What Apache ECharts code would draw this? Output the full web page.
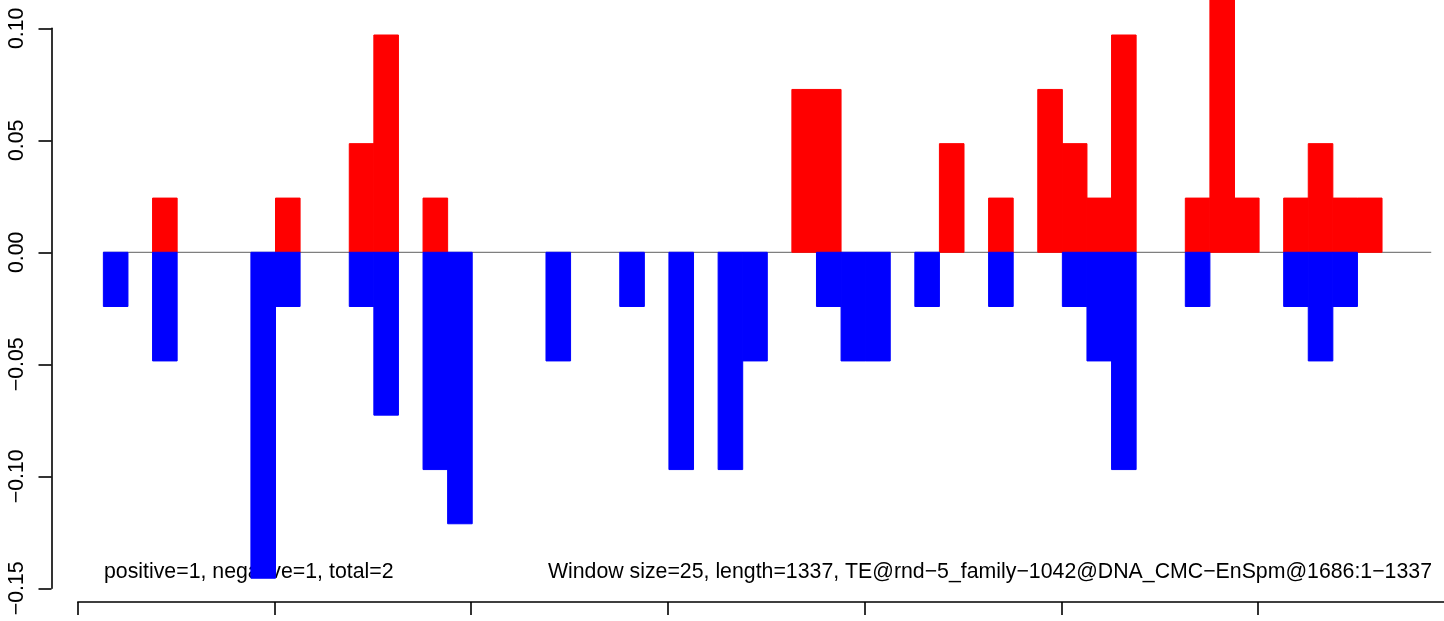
<!DOCTYPE html>
<html>
<head>
<meta charset="utf-8">
<script src="https://cdn.jsdelivr.net/npm/echarts@6/dist/echarts.min.js"></script>
<style>
html,body{margin:0;padding:0;background:#fff;}
#chart{width:1444px;height:621px;}
</style>
</head>
<body>
<div id="chart"></div>
<script>
// ---- data ----
const windowSize = 25;
const windowStarts = [26,51,76,101,126,151,176,201,226,251,276,301,326,351,376,401,426,451,476,501,526,551,576,601,626,651,676,701,726,751,776,801,826,851,876,901,926,951,976,1001,1026,1051,1076,1101,1126,1151,1176,1201,1226,1251,1276,1301,1326,1351];
const positiveValues = [0,0,0.0242,0,0,0,0,0.0242,0,0,0.0485,0.0970,0,0.0242,0,0,0,0,0,0,0,0,0,0,0,0,0,0,0.0727,0.0727,0,0,0,0,0.0485,0,0.0242,0,0.0727,0.0485,0.0242,0.0970,0,0,0.0242,0.1212,0.0242,0,0.0242,0.0485,0.0242,0.0242,0,0];
const negativeValues = [-0.0242,0,-0.0485,0,0,0,-0.1455,-0.0242,0,0,-0.0242,-0.0727,0,-0.0970,-0.1212,0,0,0,-0.0485,0,0,-0.0242,0,-0.0970,0,-0.0970,-0.0485,0,0,-0.0242,-0.0485,-0.0485,0,-0.0242,0,0,-0.0242,0,0,-0.0242,-0.0485,-0.0970,0,0,-0.0242,0,0,0,-0.0242,-0.0485,-0.0242,0,0,0];
const xTickValues = [0,200,400,600,800,1000,1200];
const yTickValues = [-0.15,-0.10,-0.05,0,0.05,0.10];
const yTickLabels = ['\u22120.15','\u22120.10','\u22120.05','0.00','0.05','0.10'];
const leftNote = 'positive=1, negative=1, total=2';
const rightNote = 'Window size=25, length=1337, TE@rnd\u22125_family\u22121042@DNA_CMC\u2212EnSpm@1686:1\u22121337';

// ---- build ----
const FONT = '"Liberation Sans", Arial, Helvetica, sans-serif';
function toRects(vals){
  return vals.map((v,i)=>[windowStarts[i], windowStarts[i]+windowSize, v]).filter(d=>d[2]!==0);
}
function renderRect(params, api){
  const a = api.coord([api.value(0), 0]);
  const b = api.coord([api.value(1), api.value(2)]);
  const st = api.style();
  st.stroke = st.fill;
  st.lineWidth = 1;
  return {
    type:'rect',
    shape:{x:a[0], y:Math.min(a[1],b[1]), width:b[0]-a[0], height:Math.abs(b[1]-a[1])},
    style:st
  };
}
const zeroLine = [[windowStarts[0],0],[windowStarts[windowStarts.length-1]+windowSize,0]];

const chart = echarts.init(document.getElementById('chart'), null, {renderer:'canvas'});
chart.setOption({
  animation:false,
  backgroundColor:'#ffffff',
  grid:[
    {left:77.8, right:0, top:0, height:602, containLabel:false},
    {left:51.5, width:10, top:28.3, height:560, containLabel:false}
  ],
  xAxis:[
    {type:'value', gridIndex:0, min:0, max:1389, position:'bottom',
     axisLine:{show:true, onZero:false, lineStyle:{color:'#000', width:1.6}},
     axisTick:{show:true, length:13, customValues:xTickValues, lineStyle:{color:'#000', width:1.6}},
     axisLabel:{show:false}, splitLine:{show:false}},
    {type:'value', gridIndex:1, show:false, min:0, max:1}
  ],
  yAxis:[
    {type:'value', gridIndex:0, min:-0.15612, max:0.11263, show:false, splitLine:{show:false}},
    {type:'value', gridIndex:1, min:-0.15, max:0.10, interval:0.05, position:'left',
     axisLine:{show:true, lineStyle:{color:'#000', width:1.6}},
     axisTick:{show:true, length:13, lineStyle:{color:'#000', width:1.6}},
     axisLabel:{show:true, rotate:90, margin:24, fontSize:21.3, fontFamily:FONT, color:'#000',
       formatter:function(v){
         let best=0; for(let i=1;i<yTickValues.length;i++){ if(Math.abs(yTickValues[i]-v)<Math.abs(yTickValues[best]-v)) best=i; }
         return yTickLabels[best];
       }},
     splitLine:{show:false}}
  ],
  series:[
    {type:'line', xAxisIndex:0, yAxisIndex:0, data:zeroLine, symbol:'none', z:1,
     lineStyle:{color:'#7f7f7f', width:1.3}, silent:true},
    {type:'custom', xAxisIndex:0, yAxisIndex:0, data:toRects(positiveValues), renderItem:renderRect,
     itemStyle:{color:'#ff0000'}, z:2, encode:{x:[0,1], y:2}},
    {type:'custom', xAxisIndex:0, yAxisIndex:0, data:toRects(negativeValues), renderItem:renderRect,
     itemStyle:{color:'#0000ff'}, z:2, encode:{x:[0,1], y:2}}
  ],
  graphic:[
    {type:'text', left:104, top:562, style:{text:leftNote, font:'21.3px ' + FONT, fill:'#000'}},
    {type:'text', right:12, top:562, style:{text:rightNote, font:'21.3px ' + FONT, fill:'#000'}}
  ]
});
</script>
</body>
</html>
